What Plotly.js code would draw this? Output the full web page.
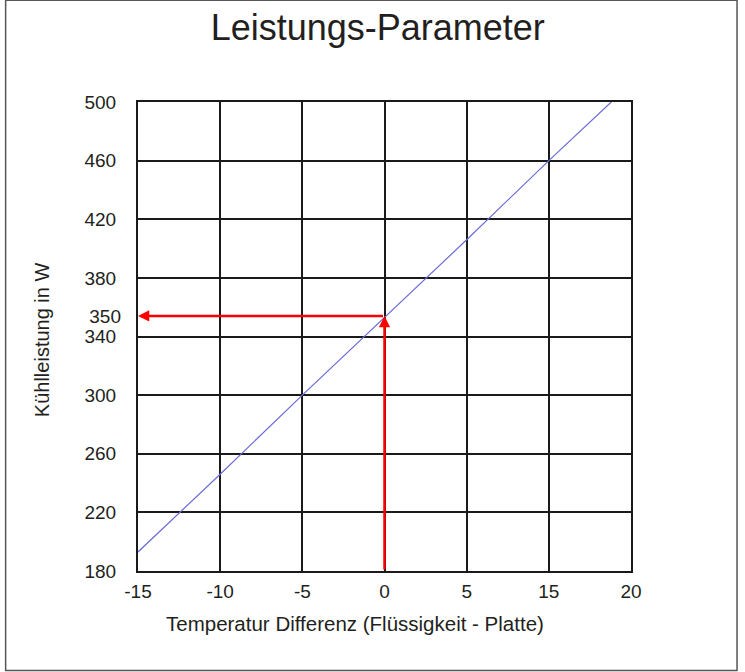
<!DOCTYPE html>
<html>
<head>
<meta charset="utf-8">
<script src="https://cdn.plot.ly/plotly-3.0.1.min.js"></script>
<style>
html,body{margin:0;padding:0;background:#fff;}
#chart{width:745px;height:672px;}
</style>
</head>
<body>
<div id="chart"></div>
<script>
// Data
const lineX = [-15, -10, -5, 0, 5, 10, 13.8];
const lineY = [193, 246, 300, 353, 406, 460, 500];

const xTickVals = [-15, -10, -5, 0, 5, 10, 15];
const xTickText = ['-15', '-10', '-5', '0', '5', '15', '20'];
const yTickVals = [180, 220, 260, 300, 340, 380, 420, 460, 500];
const yTickText = ['180', '220', '260', '300', '340', '380', '420', '460', '500'];

const markerX = 0;      // red vertical at x = 0
const markerY = 354;    // red horizontal (labelled 350)
const markerLabel = '350';

const xRange = [-15, 15];
const yRange = [180, 500];

const titleText = 'Leistungs-Parameter';
const xTitle = 'Temperatur Differenz (Flüssigkeit - Platte)';
const yTitle = 'Kühlleistung in W';

const FONT = '"Liberation Sans", Arial, sans-serif';
const TXT = '#231f20';
const RED = '#ff0000';
const GRID = '#1a1a1a';

const traces = [
  {
    x: lineX, y: lineY, type: 'scatter', mode: 'lines',
    line: {color: '#6b6bd6', width: 1.2},
    hoverinfo: 'skip', showlegend: false, cliponaxis: true
  },
  {
    x: [markerX], y: [markerY], yaxis: 'y2', type: 'scatter', mode: 'markers',
    marker: {opacity: 0}, hoverinfo: 'skip', showlegend: false
  }
];

const layout = {
  width: 745, height: 672,
  margin: {l: 138, r: 114, t: 102, b: 101},
  paper_bgcolor: '#fff', plot_bgcolor: '#fff',
  font: {family: FONT, color: TXT, size: 19},
  showlegend: false,
  title: {
    text: titleText, font: {family: FONT, size: 36, color: TXT},
    x: 0.507, xanchor: 'center', xref: 'container', y: 0.959, yanchor: 'middle'
  },
  xaxis: {
    range: xRange, tickmode: 'array', tickvals: xTickVals, ticktext: xTickText,
    showgrid: true, gridcolor: GRID, gridwidth: 2,
    showline: true, linecolor: GRID, linewidth: 2, mirror: true,
    ticks: '', ticklabelstandoff: 2, zeroline: false,
    tickfont: {size: 19, color: TXT}, fixedrange: true
  },
  yaxis: {
    range: yRange, tickmode: 'array', tickvals: yTickVals, ticktext: yTickText,
    showgrid: true, gridcolor: GRID, gridwidth: 2,
    showline: true, linecolor: GRID, linewidth: 2, mirror: true,
    ticks: '', ticklabelstandoff: 16, zeroline: false,
    tickfont: {size: 19, color: TXT}, fixedrange: true
  },
  yaxis2: {
    overlaying: 'y', side: 'left', range: yRange,
    tickmode: 'array', tickvals: [markerY], ticktext: [markerLabel],
    showgrid: false, showline: false, zeroline: false, ticks: '',
    ticklabelstandoff: 16, tickfont: {size: 19, color: TXT}, fixedrange: true
  },
  shapes: [
    {
      type: 'rect', xref: 'paper', yref: 'paper',
      x0: -0.2685, x1: 1.2151, y0: -0.2123, y1: 1.2172,
      line: {color: '#555', width: 1.5}, fillcolor: 'rgba(0,0,0,0)', layer: 'below'
    }
  ],
  annotations: [
    {
      x: markerX, y: markerY, xref: 'x', yref: 'y',
      ax: markerX, ay: yRange[0], axref: 'x', ayref: 'y',
      showarrow: true, arrowhead: 2, arrowsize: 0.9, arrowwidth: 2.5, arrowcolor: RED,
      standoff: 0, text: ''
    },
    {
      x: xRange[0], y: markerY, xref: 'x', yref: 'y',
      ax: markerX, ay: markerY, axref: 'x', ayref: 'y',
      showarrow: true, arrowhead: 2, arrowsize: 0.9, arrowwidth: 2.5, arrowcolor: RED,
      standoff: 0, text: ''
    },
    {
      text: xTitle, xref: 'paper', yref: 'paper', x: 0.44, y: -0.111,
      xanchor: 'center', yanchor: 'middle', showarrow: false,
      font: {family: FONT, size: 20.5, color: TXT}
    },
    {
      text: yTitle, xref: 'paper', yref: 'paper', x: -0.196, y: 0.493,
      xanchor: 'center', yanchor: 'middle', showarrow: false, textangle: -90,
      font: {family: FONT, size: 20, color: TXT}
    }
  ]
};

Plotly.newPlot('chart', traces, layout, {displayModeBar: false, staticPlot: true});
</script>
</body>
</html>
